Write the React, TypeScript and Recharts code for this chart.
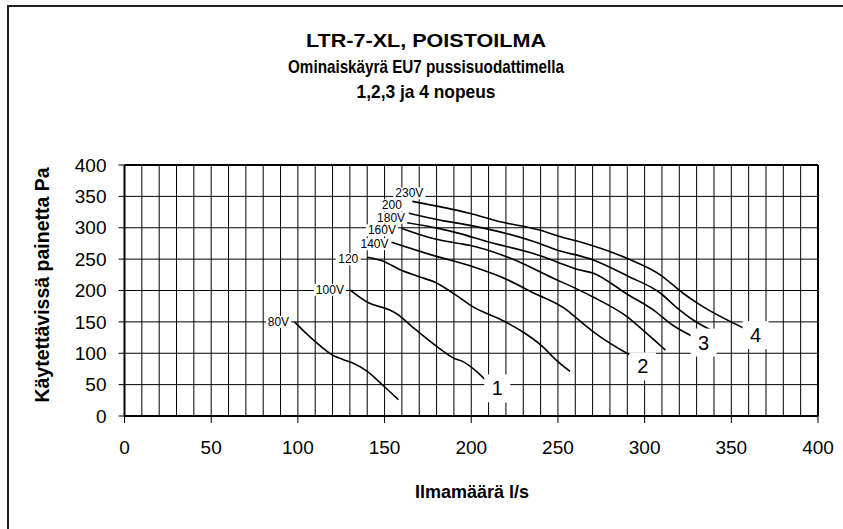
import { LineChart, Line, XAxis, YAxis, CartesianGrid, ReferenceLine, ReferenceDot } from "recharts"

// air flow l/s and available pressure Pa, read per voltage curve
const flow80 = [98, 109, 120, 126, 132, 140, 149, 158]
const pres80 = [150, 121, 97, 90, 84, 71, 49, 26]
const flow100 = [130, 141, 153, 157, 166, 180, 190, 195, 203, 209]
const pres100 = [201, 180, 169, 163, 142, 111, 92, 87, 71, 55]
const flow120 = [140, 150, 159, 170, 180, 191, 201, 216, 228, 241, 249, 257]
const pres120 = [253, 246, 233, 222, 212, 193, 174, 155, 137, 111, 89, 71]
const flow140 = [154, 178, 201, 217, 236, 255, 262, 272, 291]
const pres140 = [277, 256, 238, 222, 196, 169, 153, 131, 98]
const flow160 = [160, 178, 193, 199, 222, 247, 262, 270, 290, 301, 312]
const pres160 = [299, 283, 275, 272, 252, 220, 201, 190, 158, 132, 105]
const flow180 = [163, 181, 193, 209, 238, 249, 262, 270, 290, 305, 316, 329]
const pres180 = [308, 299, 291, 278, 257, 246, 233, 228, 194, 169, 145, 125]
const flow200 = [164, 184, 193, 236, 249, 270, 291, 309, 318, 328, 341]
const pres200 = [323, 311, 307, 278, 265, 249, 222, 196, 174, 153, 133]
const flow230 = [166, 199, 216, 240, 251, 262, 290, 309, 322, 332, 358]
const pres230 = [342, 323, 310, 296, 286, 278, 251, 225, 196, 177, 139]

const voltNames = ["80V", "100V", "120", "140V", "160V", "180V", "200", "230V"]

// speed numbers 1..4 placed on the chart
const speedNames = ["1", "2", "3", "4"]
const speedFlow = [215, 299, 334, 364]
const speedPres = [44, 79, 117, 129]

const xTicks = [0, 50, 100, 150, 200, 250, 300, 350, 400]
const yTicks = [0, 50, 100, 150, 200, 250, 300, 350, 400]
const gridFlow = Array.from({ length: 40 }, (_, i) => (i + 1) * 10)

const titleLines = ["LTR-7-XL, POISTOILMA", "Ominaiskäyrä EU7 pussisuodattimella", "1,2,3 ja 4 nopeus"]

const curves = [
  { flow: flow80, pres: pres80 },
  { flow: flow100, pres: pres100 },
  { flow: flow120, pres: pres120 },
  { flow: flow140, pres: pres140 },
  { flow: flow160, pres: pres160 },
  { flow: flow180, pres: pres180 },
  { flow: flow200, pres: pres200 },
  { flow: flow230, pres: pres230 },
]

// where each voltage tag sits relative to the curve start (px)
const tagOffset = [
  [-16, 0],
  [-20, 0],
  [-19, 2],
  [-17, 2],
  [-20, 2],
  [-16, -5],
  [-17, -8],
  [-3, -8],
]

const font = "'Liberation Sans', Arial, sans-serif"

function VoltTag(props: any) {
  const { cx, cy, text, dx, dy } = props
  const w = text.length * 7 + 4
  return (
    <g>
      <rect x={cx + dx - w / 2} y={cy + dy - 6} width={w} height={12} fill="#fff" />
      <text x={cx + dx} y={cy + dy + 4} textAnchor="middle" fontSize={12} fontFamily={font} fill="#000">
        {text}
      </text>
    </g>
  )
}

function SpeedTag(props: any) {
  const { cx, cy, text } = props
  return (
    <g>
      <rect x={cx - 13} y={cy - 14} width={26} height={28} fill="#fff" />
      <text x={cx} y={cy + 7} textAnchor="middle" fontSize={20} fontFamily={font} fill="#000">
        {text}
      </text>
    </g>
  )
}

export default function App() {
  return (
    <div style={{ position: "absolute", left: 0, top: 0, width: 843, height: 529, background: "#fff", fontFamily: font }}>
      <div
        style={{
          position: "absolute",
          left: 7,
          top: 5,
          width: 834,
          height: 522,
          borderTop: "2px solid #222",
          borderLeft: "2px solid #222",
        }}
      />
      <svg width={843} height={120} style={{ position: "absolute", left: 0, top: 0 }}>
        {titleLines.map((t, i) => (
          <text
            key={t}
            x={426}
            y={47 + i * 25.5}
            textAnchor="middle"
            fontSize={19}
            fontWeight="bold"
            fontFamily={font}
            fill="#000"
            textLength={[240, 276, 139][i]}
            lengthAdjust="spacingAndGlyphs"
          >
            {t}
          </text>
        ))}
      </svg>
      <div
        style={{
          position: "absolute",
          left: 42 - 150,
          top: 285 - 12,
          width: 300,
          height: 24,
          lineHeight: "24px",
          textAlign: "center",
          transform: "rotate(-90deg)",
          fontWeight: "bold",
          fontSize: 19.5,
          color: "#000",
        }}
      >
        Käytettävissä painetta Pa
      </div>
      <div
        style={{
          position: "absolute",
          left: 472 - 150,
          top: 480,
          width: 300,
          textAlign: "center",
          fontWeight: "bold",
          fontSize: 18,
          lineHeight: "24px",
          color: "#000",
        }}
      >
        Ilmamäärä l/s
      </div>
      <div style={{ position: "absolute", left: 0, top: 0 }}>
        <LineChart width={843} height={529} margin={{ top: 165, right: 25, bottom: 63, left: 64.5 }}>
          <CartesianGrid vertical={false} stroke="#000" strokeDasharray="" />
          {gridFlow.map((v) => (
            <ReferenceLine key={v} x={v} stroke="#000" strokeWidth={v === 400 ? 2 : 1} />
          ))}
          <ReferenceLine y={400} stroke="#000" strokeWidth={2} />
          <XAxis
            type="number"
            dataKey="flow"
            domain={[0, 400]}
            ticks={xTicks}
            allowDataOverflow
            height={50}
            tickSize={7}
            tickMargin={18}
            stroke="#000"
            axisLine={{ stroke: "#000", strokeWidth: 2 }}
            tickLine={{ stroke: "#000" }}
            tick={{ fill: "#000", fontSize: 19, fontFamily: font }}
          />
          <YAxis
            type="number"
            domain={[0, 400]}
            ticks={yTicks}
            width={60}
            tickSize={6}
            tickMargin={12}
            axisLine={{ stroke: "#000", strokeWidth: 2 }}
            tickLine={{ stroke: "#000" }}
            tick={{ fill: "#000", fontSize: 19, fontFamily: font }}
          />
          {speedNames.map((s, i) => (
            <ReferenceDot
              key={s}
              x={speedFlow[i]}
              y={speedPres[i]}
              r={0}
              shape={(p: any) => <SpeedTag cx={p.cx} cy={p.cy} text={s} />}
            />
          ))}
          {curves.map((c, i) => (
            <ReferenceDot
              key={voltNames[i]}
              x={c.flow[0]}
              y={c.pres[0]}
              r={0}
              shape={(p: any) => (
                <VoltTag cx={p.cx} cy={p.cy} text={voltNames[i]} dx={tagOffset[i][0]} dy={tagOffset[i][1]} />
              )}
            />
          ))}
          {curves.map((c, i) => (
            <Line
              key={voltNames[i]}
              data={c.flow.map((f, j) => ({ flow: f, pres: c.pres[j] }))}
              dataKey="pres"
              type="monotone"
              stroke="#000"
              strokeWidth={1.6}
              dot={false}
              activeDot={false}
              isAnimationActive={false}
            />
          ))}
        </LineChart>
      </div>
    </div>
  )
}
